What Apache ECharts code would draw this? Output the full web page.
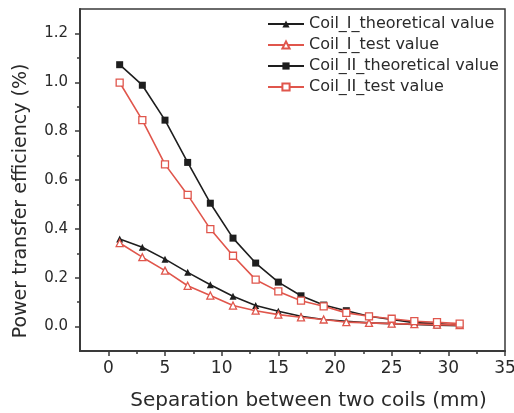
<!DOCTYPE html>
<html><head><meta charset="utf-8">
<script src="https://cdn.jsdelivr.net/npm/echarts@6/dist/echarts.min.js"></script>
<style>html,body{margin:0;padding:0;background:#fff}#c{width:514px;height:413px}</style>
</head><body><div id="c"></div>
<script>
const separation = [1,3,5,7,9,11,13,15,17,19,21,23,25,27,29,31];
const coilITheory = [0.358,0.325,0.276,0.222,0.171,0.124,0.086,0.063,0.042,0.029,0.022,0.015,0.012,0.009,0.006,0.004];
const coilITest   = [0.342,0.284,0.229,0.167,0.127,0.086,0.065,0.049,0.038,0.029,0.018,0.015,0.012,0.010,0.008,0.006];
const coilIITheory = [1.072,0.988,0.845,0.672,0.505,0.362,0.260,0.182,0.126,0.088,0.065,0.042,0.029,0.016,0.012,0.005];
const coilIITest   = [0.999,0.845,0.664,0.539,0.399,0.290,0.192,0.144,0.106,0.083,0.056,0.042,0.032,0.022,0.018,0.012];
const seriesNames = ['Coil_I_theoretical value','Coil_I_test value','Coil_II_theoretical value','Coil_II_test value'];
const xMajor = [0,5,10,15,20,25,30,35];
const xMinor = [2.5,7.5,12.5,17.5,22.5,27.5,32.5];
const yMajor = [0,0.2,0.4,0.6,0.8,1.0,1.2];
const yMinor = [0.1,0.3,0.5,0.7,0.9,1.1];

const FONT = '"DejaVu Sans", Verdana, sans-serif';
const BLACK = '#1e1e1e';
const RED = '#e0564c';
const AX = '#3a3a3a';
const TXT = '#2a2a2a';

function pts(arr){ return separation.map((x,i)=>[x,arr[i]]); }
function mk(name, data, color, symbol, hollow){
  return {
    name, type:'line', data: pts(data), symbol, symbolSize: 7,
    showAllSymbol: true,
    lineStyle:{color, width:1.6},
    itemStyle:{color: hollow ? '#fff' : color, borderColor: color, borderWidth: hollow?1.3:0},
    emphasis:{disabled:true}, animation:false, z: hollow?3:2
  };
}

const chart = echarts.init(document.getElementById('c'));
chart.setOption({
  animation:false,
  backgroundColor:'#fff',
  grid:{left:80, right:9, top:9, bottom:62, show:true, borderColor:AX, borderWidth:1.5,
    backgroundColor:'transparent', outerBoundsMode:'none', containLabel:false},
  legend:{
    orient:'vertical', left:262, top:11, itemWidth:36, itemHeight:9, itemGap:5,
    textStyle:{fontFamily:FONT, fontSize:16, color:TXT, padding:[0,0,0,0]},
    data: seriesNames
  },
  xAxis:[{
    type:'value', min:-2.5, max:35, interval:2.5,
    name:'Separation between two coils (mm)', nameLocation:'middle', nameGap:40,
    nameTextStyle:{fontFamily:FONT, fontSize:20, color:TXT, padding:[0,0,0,32]},
    axisLine:{show:true, onZero:false, lineStyle:{color:AX, width:2}},
    axisTick:{show:true, customValues:xMajor, length:5, lineStyle:{color:AX, width:1.5}},
    axisLabel:{customValues:xMajor, fontFamily:FONT, fontSize:17, color:TXT, margin:9},
    splitLine:{show:false}
  },{
    type:'value', min:-2.5, max:35, interval:2.5, position:'bottom',
    axisLine:{show:false, onZero:false}, axisLabel:{show:false},
    axisTick:{show:true, customValues:xMinor, length:3, lineStyle:{color:AX, width:1.5}},
    splitLine:{show:false}
  }],
  yAxis:[{
    type:'value', min:-0.1, max:1.3, interval:0.1,
    name:'Power transfer efficiency (%)', nameLocation:'middle', nameGap:49,
    nameTextStyle:{fontFamily:FONT, fontSize:19, color:TXT, padding:[0,42,0,0]},
    axisLine:{show:true, onZero:false, lineStyle:{color:AX, width:2}},
    axisTick:{show:true, customValues:yMajor, length:5, lineStyle:{color:AX, width:1.5}},
    axisLabel:{customValues:yMajor, fontFamily:FONT, fontSize:15, color:TXT, margin:12,
      formatter:v=>v.toFixed(1)},
    splitLine:{show:false}
  },{
    type:'value', min:-0.1, max:1.3, interval:0.1, position:'left',
    axisLine:{show:false, onZero:false}, axisLabel:{show:false},
    axisTick:{show:true, customValues:yMinor, length:3, lineStyle:{color:AX, width:1.5}},
    splitLine:{show:false}
  }],
  series:[
    mk(seriesNames[0], coilITheory, BLACK, 'triangle', false),
    mk(seriesNames[1], coilITest, RED, 'triangle', true),
    mk(seriesNames[2], coilIITheory, BLACK, 'rect', false),
    mk(seriesNames[3], coilIITest, RED, 'rect', true)
  ]
});
</script></body></html>
